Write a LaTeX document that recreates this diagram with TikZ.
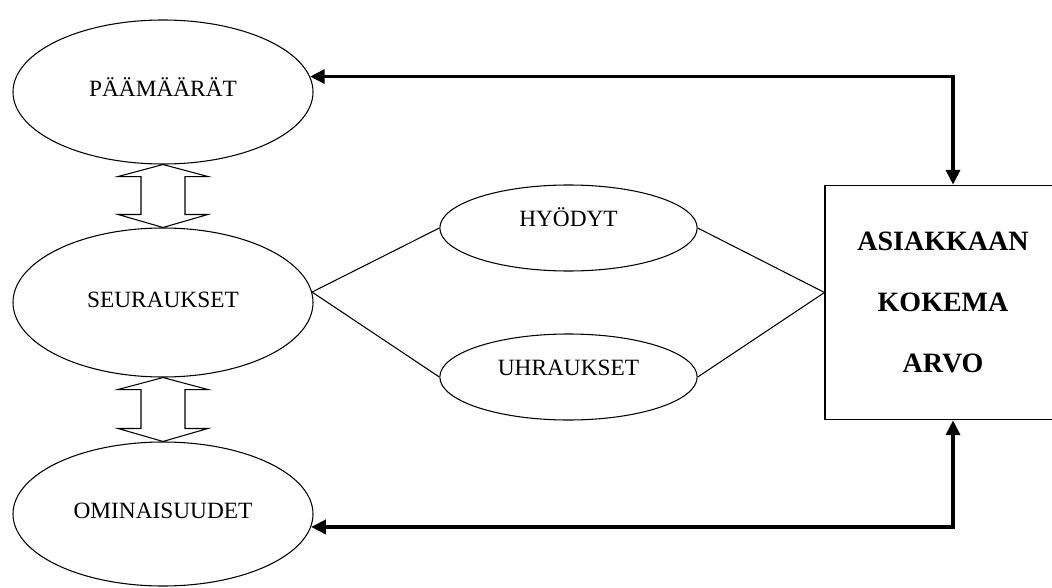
\documentclass[tikz,border=0pt]{standalone}
\usepackage{fontspec}
\setmainfont{Liberation Serif}
\usetikzlibrary{shapes.geometric,arrows.meta,calc}

\tikzset{
	oval/.style={ellipse,draw,line width=0.8pt,inner sep=0pt,
		minimum width=225pt,minimum height=108pt,
		font=\fontsize{17.5}{21}\selectfont,text height=11.6pt,text depth=4.5pt},
	smalloval/.style={oval,minimum width=193pt,minimum height=64.5pt,text depth=14.2pt},
	valuebox/.style={draw,line width=0.8pt,minimum width=177pt,minimum height=176pt,
		align=center,font=\fontsize{21}{45.75}\bfseries\selectfont},
	feedback/.style={line width=2.4pt,
		{Triangle[length=11pt,width=10.5pt]}-{Triangle[length=11pt,width=10.5pt]}},
}

% hollow two-way arrow between a lower tip (#1) and an upper tip (#2)
\newcommand{\twoway}[2]{%
	\draw[line width=0.8pt] (#1) -- ($(#1)+(45,12)$) -- ($(#1)+(22,12)$)
	-- ($(#2)+(22,-13)$) -- ($(#2)+(45,-13)$) -- (#2)
	-- ($(#2)+(-45,-13)$) -- ($(#2)+(-22,-13)$)
	-- ($(#1)+(-22,12)$) -- ($(#1)+(-45,12)$) -- cycle;}

\begin{document}
\begin{tikzpicture}[x=0.75pt,y=-0.75pt]
		\useasboundingbox (0,0) rectangle (1052,588);
		\node[oval] (pa) at (163,92) {PÄÄMÄÄRÄT};
		\node[oval,minimum height=111.75pt] (se) at (163,302.5) {SEURAUKSET};
		\node[oval] (om) at (163,514) {OMINAISUUDET};
		\node[smalloval] (hy) at (568.5,228) {HYÖDYT};
		\node[smalloval] (uh) at (568.5,377) {UHRAUKSET};
		\node[valuebox] (arvo) at (943,302.5) {ASIAKKAAN\\KOKEMA\\ARVO};
		\coordinate (meet) at ([yshift=7.5pt]arvo.west);
		\twoway{pa.south}{se.north}
		\twoway{se.south}{om.north}
		\foreach \n in {hy,uh} % benefits and sacrifices
		\draw[line width=0.8pt] (se.4) -- (\n.west) (\n.east) -- (meet);
		\draw[feedback] (pa.6) -| ([xshift=7.5pt]arvo.north);
		\draw[feedback] (om.-5) -| ([xshift=7.5pt]arvo.south);
	\end{tikzpicture}
\end{document}
